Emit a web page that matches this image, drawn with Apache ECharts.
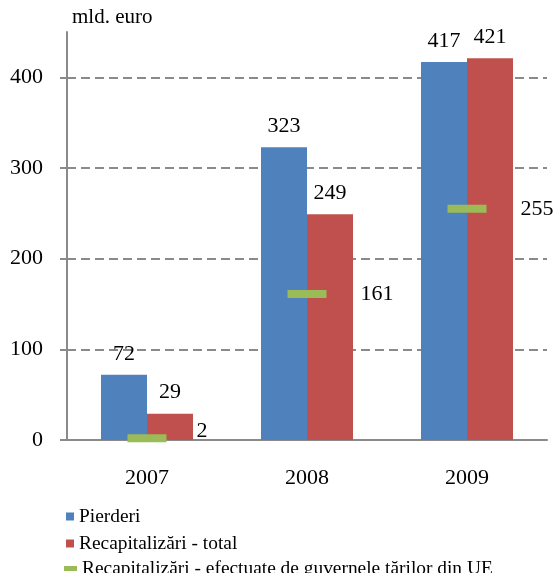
<!DOCTYPE html>
<html>
<head>
<meta charset="utf-8">
<script src="https://cdn.jsdelivr.net/npm/echarts@6/dist/echarts.min.js"></script>
<style>
  html, body { margin: 0; padding: 0; background: #fff; }
  #chart { width: 557px; height: 573px; }
</style>
</head>
<body>
<div id="chart"></div>
<script>
// values (mld. euro)
const years = ['2007', '2008', '2009'];
const pierderi = [72, 323, 417];
const recapTotal = [29, 249, 421];
const recapGuvern = [2, 161, 255];
const yTicks = [0, 100, 200, 300, 400];

const seriesNames = [
  'Pierderi',
  'Recapitalizări - total',
  'Recapitalizări - efectuate de guvernele ţărilor din UE'
];

const FONT = '"Liberation Serif", "Times New Roman", serif';
const AXIS = '#8a8a8a';
const NUM = { fontFamily: FONT, fontSize: 22, color: '#000' };

// one legend block per row, stacked like the original
function legendRow(name, top, left, icon, w, h) {
  return {
    orient: 'vertical', left, top, padding: 0,
    itemWidth: w, itemHeight: h,
    textStyle: { fontFamily: FONT, fontSize: 19.4, color: '#000' },
    data: [{ name, icon }]
  };
}

// the tiny 2007 value label sits a bit higher, off the axis line
const guvernData = recapGuvern.map((v, i) =>
  i === 0 ? { value: v, label: { offset: [-4, -7] } } : v);

const chart = echarts.init(document.getElementById('chart'), null, { renderer: 'canvas' });

chart.setOption({
  animation: false,
  backgroundColor: '#fff',
  textStyle: { fontFamily: FONT, color: '#000' },
  grid: { left: 67, right: 10, top: 32, bottom: 133 },
  title: {
    text: 'mld. euro', left: 72, top: 7, padding: 0,
    textStyle: { fontFamily: FONT, fontSize: 21, fontWeight: 'normal', color: '#000' }
  },
  legend: [
    legendRow(seriesNames[0], 507, 66, 'rect', 8, 8),
    legendRow(seriesNames[1], 534, 66, 'rect', 8, 8),
    legendRow(seriesNames[2], 559, 64, 'path://M0,0h13v5h-13z', 13, 5)
  ],
  xAxis: {
    type: 'category',
    data: years,
    axisLine: { lineStyle: { color: AXIS, width: 2 } },
    axisTick: { length: 6, lineStyle: { color: AXIS, width: 2 } },
    axisLabel: { ...NUM, margin: 27 }
  },
  yAxis: {
    type: 'value',
    min: 0, max: 450, interval: 100,
    axisLine: { show: true, lineStyle: { color: AXIS, width: 2 } },
    axisTick: { show: true, length: 7, customValues: yTicks, lineStyle: { color: AXIS, width: 2 } },
    axisLabel: { ...NUM, margin: 24, customValues: yTicks },
    splitLine: {
      show: true, showMinLine: false, showMaxLine: true,
      lineStyle: { color: AXIS, width: 2, type: [9, 5] }
    }
  },
  series: [
    {
      name: seriesNames[0], type: 'bar', data: pierderi,
      barWidth: 46, barGap: '0%',
      itemStyle: { color: '#4f81bd' },
      label: { show: true, position: 'top', distance: 10, ...NUM }
    },
    {
      name: seriesNames[1], type: 'bar', data: recapTotal,
      barWidth: 46, barGap: '0%',
      itemStyle: { color: '#c0504d' },
      label: { show: true, position: 'top', distance: 10, ...NUM }
    },
    {
      name: seriesNames[2], type: 'scatter', data: guvernData,
      symbol: 'rect', symbolSize: [39, 8], z: 5,
      itemStyle: { color: '#9bbb59', opacity: 1 },
      label: { show: true, position: 'right', distance: 34, ...NUM }
    }
  ]
});
</script>
</body>
</html>
